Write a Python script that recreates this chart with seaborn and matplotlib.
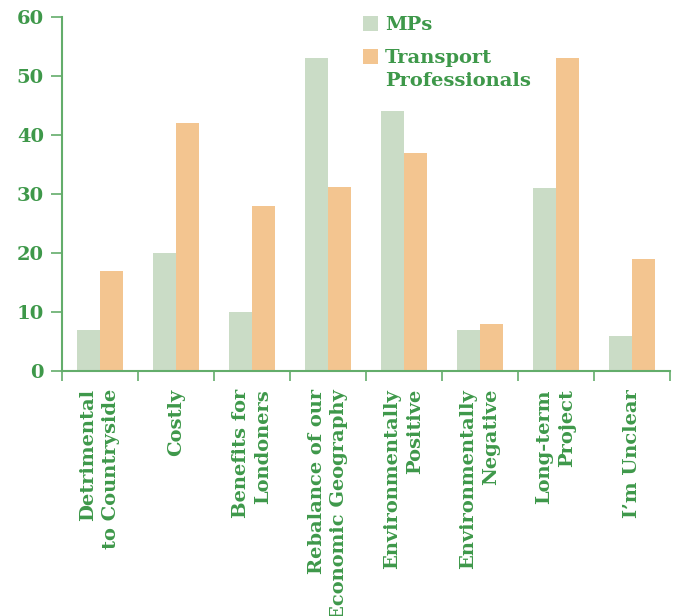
import matplotlib
matplotlib.use("Agg")
import matplotlib.pyplot as plt
import seaborn as sns
import pandas as pd
import numpy as np
from matplotlib.patches import Rectangle

categories = [
    "Detrimental\nto Countryside",
    "Costly",
    "Benefits for\nLondoners",
    "Rebalance of our\nEconomic Geography",
    "Environmentally\nPositive",
    "Environmentally\nNegative",
    "Long-term\nProject",
    "I\u2019m Unclear",
]
mps = [7, 20, 10, 53, 44, 7, 31, 6]
transport = [17, 42, 28, 31.2, 37, 8, 53, 19]
series_names = ["MPs", "Transport Professionals"]
legend_lines = [["MPs"], ["Transport", "Professionals"]]
y_ticks = [0, 10, 20, 30, 40, 50, 60]

TEXT_GREEN = "#3e984a"
AXIS_GREEN = "#63ad6b"
PALETTE = ["#cadcc6", "#f3c590"]

df = pd.DataFrame({
    "category": categories * 2,
    "value": mps + transport,
    "group": [series_names[0]] * len(categories) + [series_names[1]] * len(categories),
})

sns.set_style("white")
plt.rcParams["font.family"] = ["DejaVu Serif"]
plt.rcParams["font.weight"] = "bold"

W, H = 678, 616
fig = plt.figure(figsize=(W / 100, H / 100), dpi=100)
ax = fig.add_axes([62 / W, 1 - 371 / H, 608 / W, 354 / H])

sns.barplot(data=df, x="category", y="value", hue="group", order=categories,
            hue_order=series_names, palette=PALETTE, width=0.6, saturation=1,
            dodge=True, linewidth=0, ax=ax, legend=False)

n = len(categories)
ax.set_xlim(-0.5, n - 0.5)
ax.set_ylim(0, 60)
ax.set_yticks(y_ticks)
ax.set_yticklabels([str(t) for t in y_ticks], color=TEXT_GREEN, fontsize=14, fontweight="bold")

ax.set_xticks(range(n))
ax.set_xticklabels(categories, rotation=90, color=TEXT_GREEN, fontsize=14,
                   fontweight="bold", ha="center", va="top", multialignment="right",
                   linespacing=1.35)
ax.set_xticks(np.arange(-0.5, n, 1.0), minor=True)
ax.tick_params(axis="x", which="major", bottom=True, length=0, pad=13)
ax.tick_params(axis="x", which="minor", bottom=True, length=7.5, width=1.2,
               color=AXIS_GREEN, direction="out")
ax.tick_params(axis="y", which="major", left=True, length=8, width=1.2,
               color=AXIS_GREEN, direction="out", pad=5)

ax.set_xlabel("")
ax.set_ylabel("")
for side in ["top", "right"]:
    ax.spines[side].set_visible(False)
for side in ["left", "bottom"]:
    ax.spines[side].set_color(AXIS_GREEN)
    ax.spines[side].set_linewidth(1.5)

# legend: colour squares beside bold labels, square aligned with the first line
entries = [(PALETTE[0], legend_lines[0], 16), (PALETTE[1], legend_lines[1], 49)]
for color, lines, top_px in entries:
    fig.add_artist(Rectangle((363 / W, 1 - (top_px + 15) / H), 15 / W, 15 / H,
                             transform=fig.transFigure, facecolor=color, edgecolor="none"))
    for i, line in enumerate(lines):
        fig.text(385 / W, 1 - (top_px + 14 + 23 * i) / H, line, color=TEXT_GREEN,
                 fontsize=14, fontweight="bold", ha="left", va="baseline")

fig.savefig("out.png", dpi=100)
